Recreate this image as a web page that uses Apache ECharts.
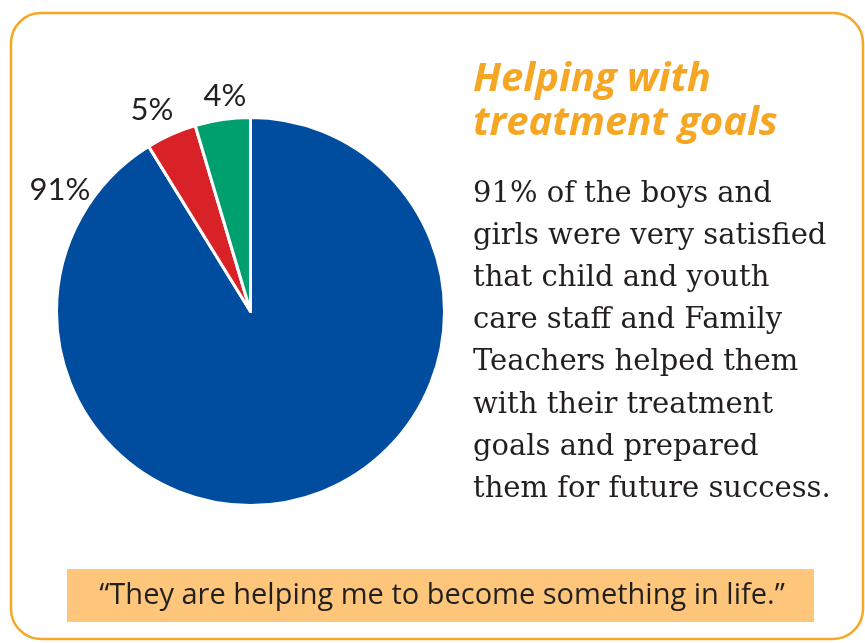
<!DOCTYPE html>
<html>
<head>
<meta charset="utf-8">
<script src="https://cdn.jsdelivr.net/npm/echarts@6/dist/echarts.min.js"></script>
<style>html,body{margin:0;padding:0;background:#fff;}#c{width:865px;height:643px;}</style>
</head>
<body>
<div id="c"></div>
<script>
var categories = ['Very satisfied', 'Somewhat satisfied', 'Not satisfied'];
var values = [91.2, 4.2, 4.6];
var labelTexts = ['91%', '5%', '4%'];
var colors = ['#004C9E', '#D92128', '#00A06E'];
var titleLines = ['Helping with', 'treatment goals'];
var bodyLines = ['91% of the boys and', 'girls were very satisfied', 'that child and youth', 'care staff and Family', 'Teachers helped them', 'with their treatment', 'goals and prepared', 'them for future success.'];
var quote = '\u201CThey are helping me to become something in life.\u201D';

var labelPos = [[60, 190], [152, 110], [225, 96]];

var chart = echarts.init(document.getElementById('c'));
var graphics = [
  {type: 'rect', shape: {x: 11, y: 13, width: 852, height: 626, r: 30}, style: {fill: 'none', stroke: '#F7A823', lineWidth: 2.5}, z: 0},
  {type: 'rect', shape: {x: 67, y: 569, width: 747, height: 53}, style: {fill: '#FDC67A'}, z: 1},
  {type: 'text', style: {x: 442, y: 596, text: quote, font: '29px "Open Sans"', fill: '#231F20', textAlign: 'center', textVerticalAlign: 'middle'}, z: 2}
];
titleLines.forEach(function (t, i) {
  graphics.push({type: 'text', style: {x: 473, y: 80 + i * 44, text: t, font: 'italic bold 40px "Open Sans"', fill: '#F5A623', textAlign: 'left', textVerticalAlign: 'middle'}, z: 2});
});
bodyLines.forEach(function (t, i) {
  graphics.push({type: 'text', style: {x: 473, y: 194 + i * 42.2, text: t, font: '29px "DejaVu Serif"', fill: '#231F20', textAlign: 'left', textVerticalAlign: 'middle'}, z: 2});
});

chart.setOption({
  backgroundColor: '#fff',
  animation: false,
  graphic: graphics,
  series: [{
    type: 'pie',
    center: [250.5, 311.5],
    radius: [0, 194],
    startAngle: 90,
    clockwise: true,
    itemStyle: {borderColor: '#fff', borderWidth: 3},
    label: {
      show: true,
      position: 'outside',
      formatter: function (p) { return labelTexts[p.dataIndex]; },
      fontFamily: 'Lato',
      fontSize: 31,
      color: '#231F20'
    },
    labelLine: {show: false},
    labelLayout: function (p) {
      var xy = labelPos[p.dataIndex];
      return {x: xy[0], y: xy[1], align: 'center', verticalAlign: 'middle'};
    },
    data: categories.map(function (c, i) {
      return {name: c, value: values[i], itemStyle: {color: colors[i]}};
    })
  }]
});
</script>
</body>
</html>
